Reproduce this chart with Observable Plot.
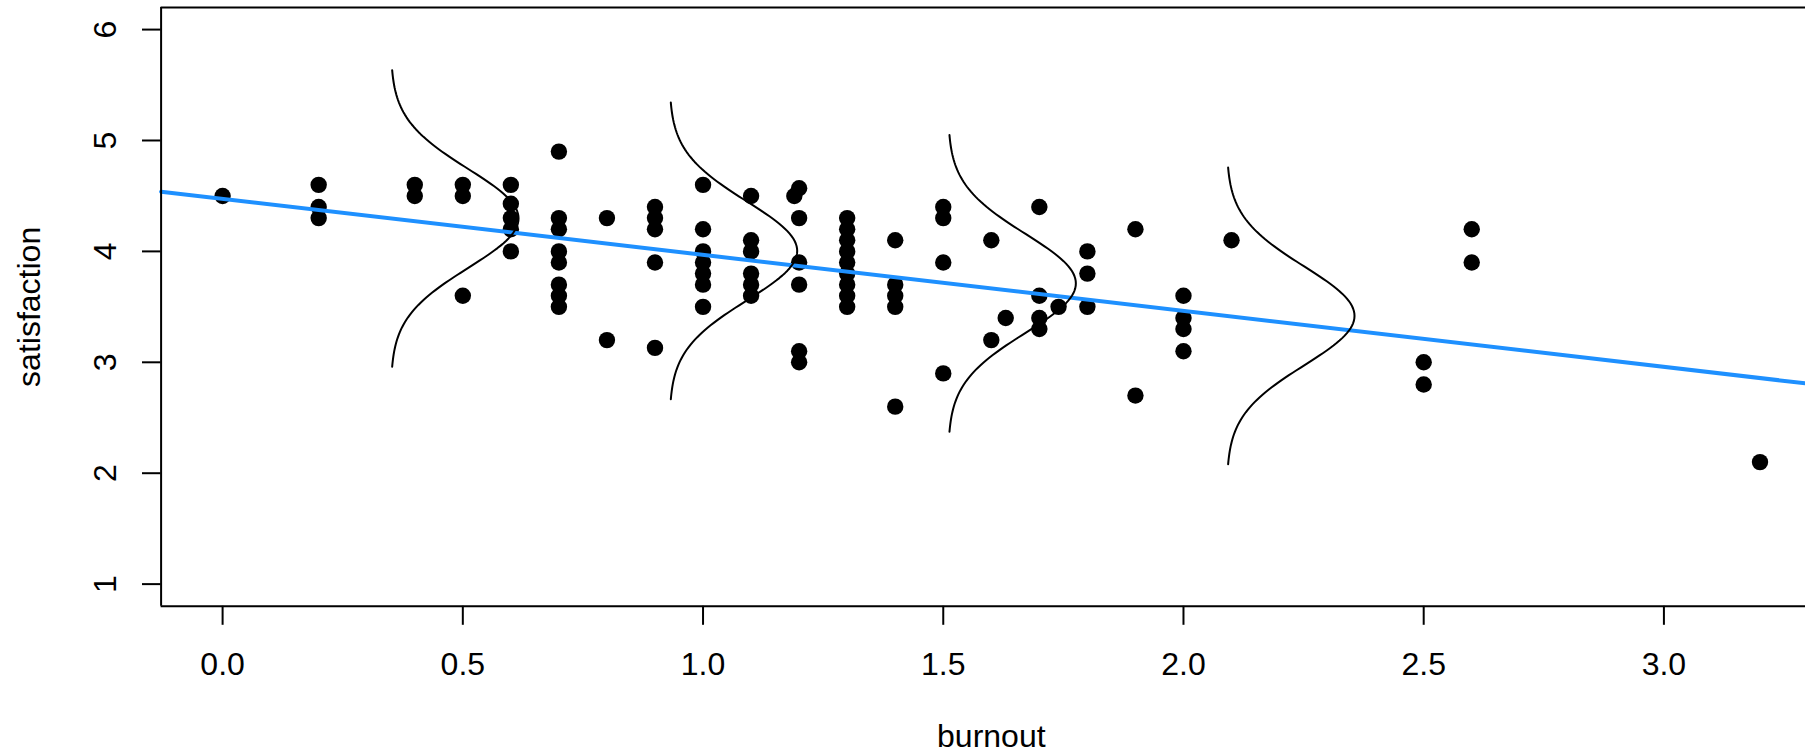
<!DOCTYPE html>
<html>
<head>
<meta charset="utf-8">
<script src="https://cdn.jsdelivr.net/npm/d3@7"></script>
<script src="https://cdn.jsdelivr.net/npm/@observablehq/plot@0.6"></script>
<style>
  html, body { margin: 0; padding: 0; background: #fff; overflow: hidden; }
  #chart svg { overflow: hidden; display: block; }
</style>
</head>
<body>
<div id="chart"></div>
<script>
// ---- data ----
const burnout = [
  0.0,
  0.2, 0.2, 0.2,
  0.4, 0.4,
  0.5, 0.5, 0.5,
  0.6, 0.6, 0.6, 0.6, 0.6,
  0.7, 0.7, 0.7, 0.7, 0.7, 0.7, 0.7, 0.7,
  0.8, 0.8,
  0.9, 0.9, 0.9, 0.9, 0.9,
  1.0, 1.0, 1.0, 1.0, 1.0, 1.0, 1.0,
  1.1, 1.1, 1.1, 1.1, 1.1, 1.1,
  1.19,
  1.2, 1.2, 1.2, 1.2, 1.2, 1.2,
  1.3, 1.3, 1.3, 1.3, 1.3, 1.3, 1.3, 1.3, 1.3,
  1.4, 1.4, 1.4, 1.4, 1.4,
  1.5, 1.5, 1.5, 1.5,
  1.6, 1.6,
  1.63,
  1.7, 1.7, 1.7, 1.7,
  1.74,
  1.8, 1.8, 1.8,
  1.9, 1.9,
  2.0, 2.0, 2.0, 2.0,
  2.1,
  2.5, 2.5,
  2.6, 2.6,
  3.2
];
const satisfaction = [
  4.5,
  4.6, 4.4, 4.3,
  4.6, 4.5,
  4.6, 4.5, 3.6,
  4.6, 4.43, 4.3, 4.2, 4.0,
  4.9, 4.3, 4.2, 4.0, 3.9, 3.7, 3.6, 3.5,
  4.3, 3.2,
  4.4, 4.3, 4.2, 3.9, 3.13,
  4.6, 4.2, 4.0, 3.9, 3.8, 3.7, 3.5,
  4.5, 4.1, 4.0, 3.8, 3.7, 3.6,
  4.5,
  4.57, 4.3, 3.9, 3.7, 3.1, 3.0,
  4.3, 4.2, 4.1, 4.0, 3.9, 3.8, 3.7, 3.6, 3.5,
  4.1, 3.7, 3.6, 3.5, 2.6,
  4.4, 4.3, 3.9, 2.9,
  4.1, 3.2,
  3.4,
  4.4, 3.6, 3.4, 3.3,
  3.5,
  4.0, 3.8, 3.5,
  4.2, 2.7,
  3.6, 3.4, 3.3, 3.1,
  4.1,
  3.0, 2.8,
  4.2, 3.9,
  2.1
];

// fitted line
const lineIntercept = 4.474;
const lineSlope = -0.505;

// normal curves drawn at these burnout values
const curveX = [0.35, 0.93, 1.51, 2.09];
const curveSigma = 0.4457;   // residual sd
const curvePeak = 0.266;     // horizontal height of each curve's peak
const curveSpan = 3;         // +/- sd covered

// axes
const xTicks = [0, 0.5, 1, 1.5, 2, 2.5, 3];
const xTickLabels = ["0.0", "0.5", "1.0", "1.5", "2.0", "2.5", "3.0"];
const yTicks = [1, 2, 3, 4, 5, 6];
const yTickLabels = ["1", "2", "3", "4", "5", "6"];
const xDomain = [-0.128, 3.328];
const yDomain = [0.8, 6.2];

// ---- build ----
const points = burnout.map((b, i) => ({b, s: satisfaction[i]}));
const fitLine = xDomain.map(b => ({b, s: lineIntercept + lineSlope * b}));

const curves = [];
curveX.forEach((x0, k) => {
  const mean = lineIntercept + lineSlope * x0;
  const n = 120;
  for (let j = 0; j <= n; j++) {
    const z = -curveSpan + (2 * curveSpan * j) / n;
    curves.push({g: k, b: x0 + curvePeak * Math.exp(-z * z / 2), s: mean + z * curveSigma});
  }
});

const W = 1805, H = 753;
const mL = 160.6, mT = 6.9, mB = 147.2;
const xRangeRight = 1821;

const chart = Plot.plot({
  width: W,
  height: H,
  marginLeft: mL,
  marginRight: 0,
  marginTop: mT,
  marginBottom: mB,
  style: {fontFamily: "'Liberation Sans', Arial, Helvetica, sans-serif", fontSize: "32px", background: "#fff", color: "#000", overflow: "hidden"},
  x: {type: "linear", domain: xDomain, range: [mL, xRangeRight]},
  y: {type: "linear", domain: yDomain, range: [H - mB, mT]},
  marks: [
    Plot.dot(points, {x: "b", y: "s", r: 8.2, fill: "#000", stroke: "none"}),
    Plot.line(fitLine, {x: "b", y: "s", stroke: "#1E90FF", strokeWidth: 4}),
    Plot.line(curves, {x: "b", y: "s", z: "g", stroke: "#000", strokeWidth: 2, curve: "linear"}),
    // box (left, top, bottom)
    Plot.ruleY(yDomain, {x1: xDomain[0], x2: xDomain[1], stroke: "#000", strokeWidth: 2}),
    Plot.ruleX([xDomain[0]], {y1: yDomain[0], y2: yDomain[1], stroke: "#000", strokeWidth: 2}),
    Plot.axisX({
      ticks: xTicks, tickSize: 19, tickPadding: 26.5, strokeWidth: 2,
      tickFormat: d => xTickLabels[xTicks.indexOf(d)], fontSize: 32, label: null
    }),
    Plot.axisY({
      ticks: yTicks, tickSize: 18.6, tickPadding: 27, tickRotate: -90, strokeWidth: 2,
      tickFormat: d => yTickLabels[yTicks.indexOf(d)], fontSize: 32, label: null
    }),
    Plot.text(["burnout"], {x: (xDomain[0] + xDomain[1]) / 2, y: yDomain[0], text: d => d, dy: 140.5, lineAnchor: "bottom", textAnchor: "middle", fontSize: 32, fill: "#000"}),
    Plot.text(["satisfaction"], {x: xDomain[0], y: (yDomain[0] + yDomain[1]) / 2, text: d => d, dx: -121.3, rotate: -90, lineAnchor: "bottom", textAnchor: "middle", fontSize: 32, fill: "#000"})
  ]
});
document.getElementById("chart").appendChild(chart);
</script>
</body>
</html>
